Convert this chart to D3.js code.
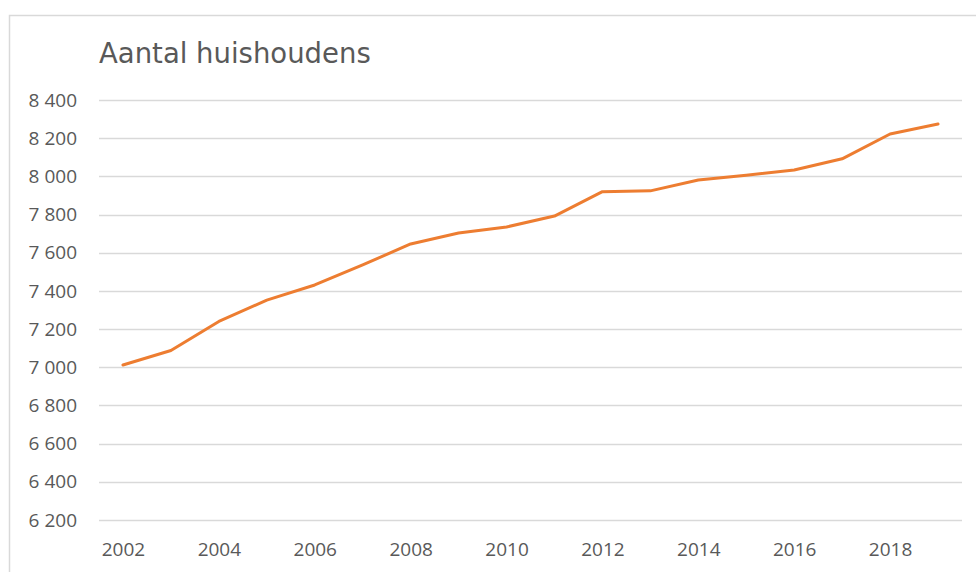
<!DOCTYPE html>
<html lang="nl">
<head>
    <title>Aantal huishoudens</title>
    <script src="https://d3js.org/d3.v7.min.js"></script>
    <style>
        body {
            margin: 0;
            background: #fff;
        }
        .title {
            font-family: "DejaVu Sans", Verdana, sans-serif;
            font-size: 27.5px;
            fill: #595959;
        }
        .tick text {
            font-family: "Open Sans", sans-serif;
            font-size: 19px;
            fill: #595959;
        }
        .grid line {
            stroke: #d9d9d9;
            stroke-width: 1.3;
        }
        .line {
            fill: none;
            stroke: #ed7d31;
            stroke-width: 3;
            stroke-linejoin: round;
            stroke-linecap: round;
        }
    </style>
</head>
<body>
<svg class="chart"></svg>

<script>
    // years and number of households (x 1000)
    const years = [2002, 2003, 2004, 2005, 2006, 2007, 2008, 2009, 2010,
                   2011, 2012, 2013, 2014, 2015, 2016, 2017, 2018, 2019];
    const households = [7012, 7088, 7240, 7352, 7431, 7536, 7646, 7703, 7735,
                        7792, 7920, 7924, 7981, 8006, 8033, 8092, 8222, 8274];
    const yTicks = [6200, 6400, 6600, 6800, 7000, 7200, 7400, 7600, 7800, 8000, 8200, 8400];
    const xTicks = [2002, 2004, 2006, 2008, 2010, 2012, 2014, 2016, 2018];

    const width = 976, height = 572;
    const plot = {left: 99, right: 962, top: 100, bottom: 520};

    const svg = d3.select("svg.chart")
        .attr("width", width)
        .attr("height", height);

    // chart frame (only left and top edges are visible in the crop)
    svg.append("rect")
        .attr("x", 9.5).attr("y", 15.5)
        .attr("width", 1000).attr("height", 600)
        .attr("fill", "none")
        .attr("stroke", "#d9d9d9")
        .attr("stroke-width", 1.5);

    const x = d3.scalePoint()
        .domain(years)
        .range([plot.left, plot.right])
        .padding(0.5);

    const y = d3.scaleLinear()
        .domain([6200, 8400])
        .range([plot.bottom, plot.top]);

    const nl = d3.formatLocale({decimal: ",", thousands: " ", grouping: [3], currency: ["", ""]});
    const fmt = nl.format(",");

    // horizontal gridlines
    svg.append("g").attr("class", "grid")
        .selectAll("line")
        .data(yTicks)
        .join("line")
        .attr("x1", plot.left).attr("x2", plot.right)
        .attr("y1", d => Math.round(y(d)) + 0.5)
        .attr("y2", d => Math.round(y(d)) + 0.5);

    // y axis labels
    const yAxis = d3.axisLeft(y)
        .tickValues(yTicks)
        .tickFormat(fmt)
        .tickSize(0)
        .tickPadding(0);
    svg.append("g")
        .attr("transform", "translate(77,0)")
        .call(yAxis)
        .call(g => g.select(".domain").remove());

    // x axis labels
    const xAxis = d3.axisBottom(x)
        .tickValues(xTicks)
        .tickFormat(d3.format("d"))
        .tickSize(0)
        .tickPadding(0);
    svg.append("g")
        .attr("transform", "translate(0,542)")
        .call(xAxis)
        .call(g => g.select(".domain").remove());

    // the data line
    const line = d3.line()
        .x((d, i) => x(years[i]))
        .y(d => y(d));

    svg.append("path")
        .datum(households)
        .attr("class", "line")
        .attr("d", line);

    svg.append("text")
        .attr("class", "title")
        .attr("x", 99)
        .attr("y", 63)
        .text("Aantal huishoudens");
</script>
</body>
</html>
